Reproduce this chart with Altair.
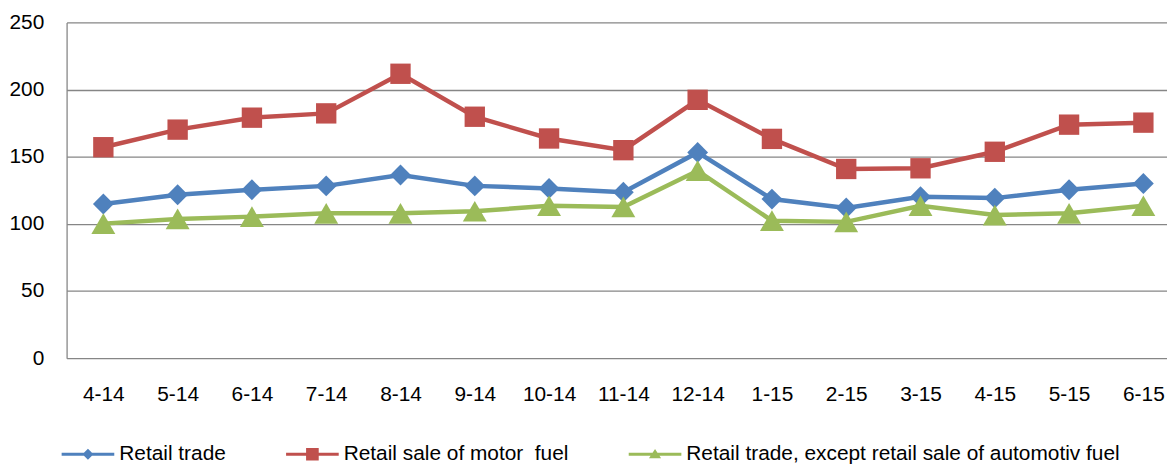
import altair as alt
import pandas as pd

FONT = "Liberation Sans, Arial, sans-serif"

months = ["4-14", "5-14", "6-14", "7-14", "8-14", "9-14", "10-14", "11-14",
          "12-14", "1-15", "2-15", "3-15", "4-15", "5-15", "6-15"]

series_names = [
    "Retail trade",
    "Retail sale of motor\u00a0 fuel",
    "Retail trade, except retail sale of automotiv fuel",
]

retail_trade = [114.8, 121.7, 125.4, 128.3, 136.4, 128.3, 126.4, 123.6,
                153.2, 118.5, 111.8, 120.2, 119.2, 125.4, 130.1]
motor_fuel = [157.1, 170.2, 179.1, 182.3, 211.8, 179.8, 163.6, 154.9,
              192.4, 163.3, 140.9, 141.4, 153.7, 173.9, 175.4]
except_fuel = [100.2, 103.7, 105.4, 107.9, 107.9, 109.4, 113.5, 112.6,
               139.6, 102.4, 101.5, 113.5, 106.6, 107.9, 113.5]

colors = ["#4F81BD", "#C0504D", "#9BBB59"]
markers = ["diamond", "square", "triangle-up"]
marker_sizes = [440, 420, 580]

# legend symbols: a short line with a small marker in the middle
legend_paths = [
    "M-1,-0.06H1V0.06H-1Z M0,-0.21L0.21,0L0,0.21L-0.21,0Z",
    "M-1,-0.06H1V0.06H-1Z M-0.24,-0.24H0.24V0.24H-0.24Z",
    "M-1,-0.06H1V0.06H-1Z M0,-0.2L0.23,0.15H-0.23Z",
]

rows = []
for name, vals in zip(series_names, [retail_trade, motor_fuel, except_fuel]):
    for i, (m, v) in enumerate(zip(months, vals)):
        rows.append({"idx": i, "month": m, "value": v, "series": name})
df = pd.DataFrame(rows)

month_array = "[" + ",".join("'" + m + "'" for m in months) + "]"

x_enc = alt.X(
    "idx:Q",
    scale=alt.Scale(domain=[-0.4947, 14.3181], nice=False, zero=False),
    axis=alt.Axis(title=None, domain=False, ticks=False, tickSize=0, grid=False,
                  values=list(range(len(months))),
                  labelExpr=month_array + "[datum.value]",
                  labelAngle=0, labelPadding=26, labelFontSize=21,
                  labelFont=FONT, labelColor="black", labelFlush=False,
                  labelOverlap=False),
)
y_enc = alt.Y(
    "value:Q",
    scale=alt.Scale(domain=[0, 250], nice=False),
    axis=alt.Axis(title=None, values=[0, 50, 100, 150, 200, 250], grid=True,
                  gridColor="#868686", gridWidth=1.3, domainColor="#868686",
                  domainWidth=1.3, ticks=False, tickSize=0, labelPadding=23,
                  labelFontSize=21, labelFont=FONT, labelColor="black"),
)

base = alt.Chart(df)
layers = []
for name, col, mk, sz in zip(series_names, colors, markers, marker_sizes):
    sub = base.transform_filter(alt.datum.series == name)
    layers.append(sub.mark_line(color=col, strokeWidth=4.5).encode(
        x=x_enc, y=y_enc, order="idx:Q"))
    layers.append(sub.mark_point(filled=True, shape=mk, size=sz, color=col, opacity=1)
                  .encode(x=x_enc, y=y_enc))

leg = alt.Legend(title=None, orient="none", legendX=-5, legendY=408,
                 direction="horizontal", symbolSize=2809, labelFontSize=21,
                 labelFont=FONT, labelColor="black", labelOffset=5,
                 columnPadding=60, labelLimit=0, symbolStrokeWidth=0,
                 padding=0, symbolOpacity=1)

holder = base.transform_filter("false").mark_point(filled=True, strokeWidth=0).encode(
    x=x_enc,
    y=y_enc,
    color=alt.Color("series:N", scale=alt.Scale(domain=series_names, range=colors),
                    legend=leg),
    shape=alt.Shape("series:N", scale=alt.Scale(domain=series_names, range=legend_paths),
                    legend=leg),
)
layers.append(holder)

chart = alt.layer(*layers).properties(
    width=1108,
    height=338,
    autosize=alt.AutoSizeParams(type="none"),
    padding={"left": 59, "top": 13, "right": 0, "bottom": 105},
).configure_view(stroke=None)

chart.save("out.html", embed_options={"renderer": "svg", "actions": False})
